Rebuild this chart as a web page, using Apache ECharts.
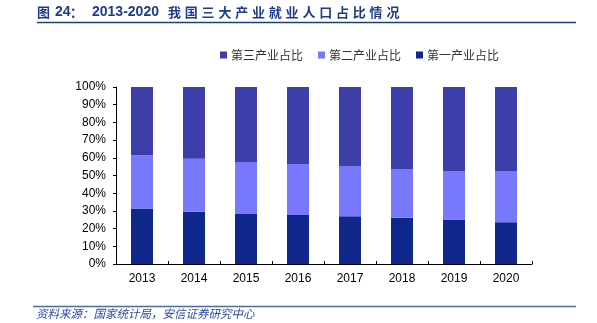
<!DOCTYPE html>
<html>
<head>
<meta charset="utf-8">
<script src="https://cdn.jsdelivr.net/npm/echarts@6/dist/echarts.min.js"></script>
<style>
  html, body { margin: 0; padding: 0; background: #fff; }
  #chart { width: 597px; height: 323px; }
</style>
</head>
<body>
<div id="chart"></div>
<script>
// Employment share by industry, 2013-2020 (%)
const years = ['2013', '2014', '2015', '2016', '2017', '2018', '2019', '2020'];
const primaryShare = [31.4, 29.5, 28.3, 27.7, 27.0, 26.1, 25.1, 23.6];
const secondaryShare = [30.1, 29.9, 29.3, 28.8, 28.1, 27.6, 27.5, 28.7];
const tertiaryShare = [38.5, 40.6, 42.4, 43.5, 44.9, 46.3, 47.4, 47.7];
const seriesNames = ['第三产业占比', '第二产业占比', '第一产业占比'];

const chart = echarts.init(document.getElementById('chart'), null, { renderer: 'canvas' });
const cjk = '"Noto Sans CJK SC", "Noto Sans", sans-serif';
const latin = '"Liberation Sans", Arial, sans-serif';
const titleColor = '#1f3c8c';

// Heading: letter-spaced, built as a row of text pieces
const titleY = 12;
const titlePieces = [
  { text: '图', x: 37, font: cjk, size: 13 },
  { text: '24', x: 55, font: latin, size: 14 },
  { text: '：', x: 70, font: cjk, size: 13 },
  { text: '2013-2020', x: 92, font: latin, size: 14 }
];
const titleTail = '我国三大产业就业人口占比情况';
for (let i = 0; i < titleTail.length; i++) {
  titlePieces.push({ text: titleTail[i], x: 168 + i * 16.8, font: cjk, size: 13 });
}
const titleGraphics = titlePieces.map(p => ({
  type: 'text',
  x: p.x,
  y: titleY,
  style: {
    text: p.text,
    fontFamily: p.font,
    fontSize: p.size,
    fontWeight: 'bold',
    fill: titleColor,
    textVerticalAlign: 'middle',
    verticalAlign: 'middle'
  }
}));

chart.setOption({
  animation: false,
  backgroundColor: '#ffffff',
  graphic: titleGraphics.concat([
    { type: 'line', shape: { x1: 37, y1: 22.5, x2: 576, y2: 22.5 }, style: { stroke: titleColor, lineWidth: 1.5 } },
    { type: 'line', shape: { x1: 33, y1: 306.5, x2: 576, y2: 306.5 }, style: { stroke: '#4a6ab0', lineWidth: 1.5 } },
    {
      type: 'text', left: 36, top: 308,
      style: { text: '资料来源：国家统计局，安信证券研究中心', fontFamily: cjk, fontSize: 11.5, fontStyle: 'italic', fill: '#2a4a9a' }
    }
  ]),
  legend: {
    data: seriesNames,
    left: 215,
    top: 44,
    icon: 'rect',
    itemWidth: 7,
    itemHeight: 7,
    itemGap: 15,
    textStyle: { fontFamily: cjk, fontSize: 12, color: '#333', padding: [0, 0, 0, -1] }
  },
  grid: { left: 116, right: 65, top: 87, bottom: 59 },
  xAxis: {
    type: 'category',
    data: years,
    axisLine: { lineStyle: { color: '#000', width: 1 } },
    axisTick: { show: true, inside: true, length: 3, lineStyle: { color: '#000' } },
    axisLabel: { fontFamily: latin, fontSize: 12, color: '#000', margin: 9 }
  },
  yAxis: {
    type: 'value',
    min: 0,
    max: 100,
    interval: 10,
    axisLine: { show: true, lineStyle: { color: '#000', width: 1 } },
    axisTick: { show: true, length: 3, lineStyle: { color: '#000' } },
    splitLine: { show: false },
    axisLabel: { fontFamily: latin, fontSize: 12, color: '#000', margin: 10, formatter: '{value}%' }
  },
  series: [
    { name: '第一产业占比', type: 'bar', stack: 'share', barWidth: 22, data: primaryShare, itemStyle: { color: '#0f278b' } },
    { name: '第二产业占比', type: 'bar', stack: 'share', barWidth: 22, data: secondaryShare, itemStyle: { color: '#7878fd' } },
    { name: '第三产业占比', type: 'bar', stack: 'share', barWidth: 22, data: tertiaryShare, itemStyle: { color: '#3e3eaa' } }
  ]
});
</script>
</body>
</html>
